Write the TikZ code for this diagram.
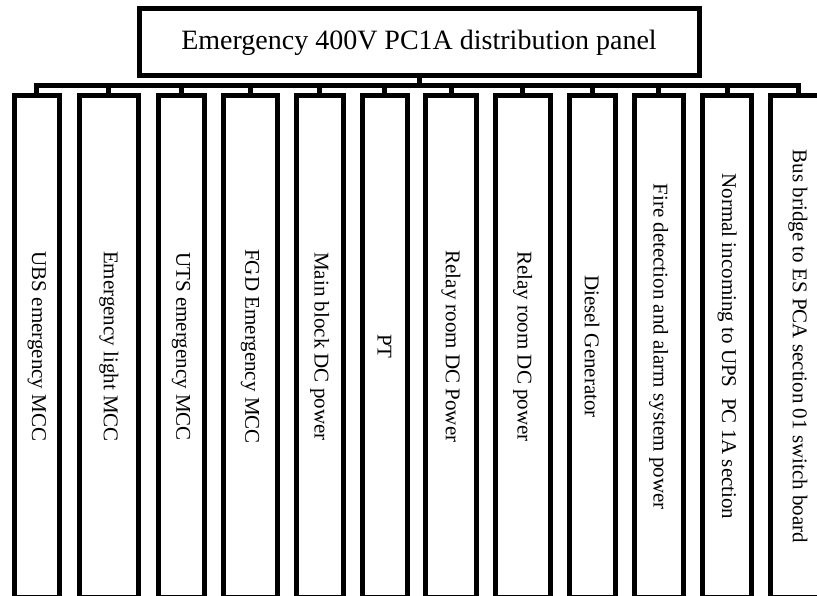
\documentclass[tikz,border=0pt]{standalone}
\usepackage{fontspec}
\setmainfont{Liberation Serif}
\begin{document}
\begin{tikzpicture}[x=1pt,y=-1pt,
  line join=miter,
  wire/.style={draw=black, line width=5pt},
  mainbox/.style={draw=black, line width=5pt, minimum width=560pt, minimum height=67pt, inner sep=0pt, font=\fontsize{28}{32}\selectfont},
  panel/.style={draw=black, line width=5pt, minimum width=#1, minimum height=501pt, inner sep=0pt},
  lbl/.style={rotate=-90, font=\fontsize{21}{25}\selectfont, inner sep=0pt}
]
\fill[white] (0,0) rectangle (817,596);
\useasboundingbox (0,0) rectangle (817,596);

\node[mainbox] (main) at (419,42.5) {Emergency 400V PC1A distribution panel};

\node[panel=45.5pt, label={[lbl]center:UBS emergency MCC}] (b1) at (36.75,346.5) {};
\node[panel=59.7pt, label={[lbl]center:Emergency light MCC}] (b2) at (108.85,346.5) {};
\node[panel=46pt, label={[lbl]center:UTS emergency MCC}] (b3) at (181,346.5) {};
\node[panel=54pt, label={[lbl]center:FGD Emergency MCC}] (b4) at (250,346.5) {};
\node[panel=46.5pt, label={[lbl]center:Main block DC power}] (b5) at (319.75,346.5) {};
\node[panel=45pt, label={[lbl]center:PT}] (b6) at (384.5,346.5) {};
\node[panel=51pt, label={[lbl]center:Relay room DC Power}] (b7) at (451,346.5) {};
\node[panel=55.5pt, label={[lbl]center:Relay room DC power}] (b8) at (522.75,346.5) {};
\node[panel=46pt, label={[lbl]center:Diesel Generator}] (b9) at (592,346.5) {};
\node[panel=49.5pt, label={[lbl]center:Fire detection and alarm system power}] (b10) at (658.75,346.5) {};
\node[panel=49.2pt, label={[lbl]center:Normal incoming to UPS\ \ PC 1A section}] (b11) at (727.1,346.5) {};
\node[panel=56pt, label={[lbl]center:Bus bridge to ES PCA section 01 switch board}] (b12) at (798,346.5) {};

\coordinate (busL) at (36.75,86);
\coordinate (busR) at (798,86);

\draw[wire] (b1.north) -- (busL) -- (busR) -- (b12.north);
\draw[wire] (main.south) -- (main.south |- busL);
\foreach \i in {2,...,11} {
  \draw[wire] (b\i.north) -- (b\i.north |- busL);
}
\end{tikzpicture}
\end{document}
